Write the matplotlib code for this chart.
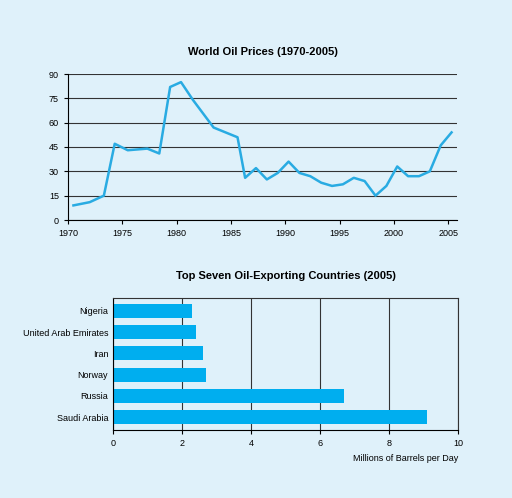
import matplotlib.pyplot as plt

plt.rcParams['font.family'] = ['Liberation Sans', 'DejaVu Sans']

bg = "#dff1fa"
line_color = "#29abe2"

# World oil prices
years = [1970.5, 1972, 1973.3, 1974.3, 1975.5, 1977.3, 1978.4, 1979.4, 1980.4, 1981.5,
         1983.4, 1985.6, 1986.3, 1987.3, 1988.3, 1989.3, 1990.3, 1991.3, 1992.3, 1993.3,
         1994.3, 1995.3, 1996.3, 1997.3, 1998.3, 1999.3, 2000.3, 2001.3, 2002.3, 2003.3,
         2004.3, 2005.3]
prices = [9, 11, 15, 47, 43, 44, 41, 82, 85, 74, 57, 51, 26, 32, 25, 29, 36, 29, 27, 23,
          21, 22, 26, 24, 15, 21, 33, 27, 27, 30, 46, 54]

# Exporters
countries = ["Saudi Arabia", "Russia", "Norway", "Iran", "United Arab Emirates", "Nigeria"]
barrels = [9.1, 6.7, 2.7, 2.6, 2.4, 2.3]

fig = plt.figure(figsize=(5.12, 4.98), dpi=100, facecolor=bg)

# Top chart
ax1 = fig.add_axes((68/512, 1-220/498, 389/512, 146/498), facecolor=bg)
ax1.plot(years, prices, color=line_color, linewidth=1.8)
ax1.set_xlim(1970, 2005.8)
ax1.set_ylim(0, 90)
ax1.set_yticks(range(0, 91, 15))
ax1.set_xticks(range(1970, 2006, 5))
ax1.yaxis.grid(True, color="#333333", linewidth=0.8)
ax1.set_axisbelow(True)
for s in ["top", "right"]:
    ax1.spines[s].set_visible(False)
ax1.tick_params(labelsize=6.5, length=3)
ax1.set_title("World Oil Prices (1970-2005)", fontsize=8, fontweight="bold", pad=14)

# Bottom chart
ax2 = fig.add_axes((113/512, 1-430/498, 345/512, 132/498), facecolor=bg)
ax2.barh(countries, barrels, color="#00aeef", height=0.65)
ax2.set_xlim(0, 10)
ax2.set_ylim(-0.6, 5.6)
ax2.set_xticks(range(0, 11, 2))
ax2.xaxis.grid(True, color="#333333", linewidth=0.8)
ax2.set_axisbelow(True)
for s in ["top", "right"]:
    ax2.spines[s].set_color("#333333")
ax2.tick_params(labelsize=6.5, length=0)
ax2.tick_params(axis="x", length=3)
ax2.set_xlabel("Millions of Barrels per Day", fontsize=6.5, loc="right")
ax2.set_title("Top Seven Oil-Exporting Countries (2005)", fontsize=8, fontweight="bold", pad=14)

fig.savefig("out.png", dpi=100, facecolor=bg)
